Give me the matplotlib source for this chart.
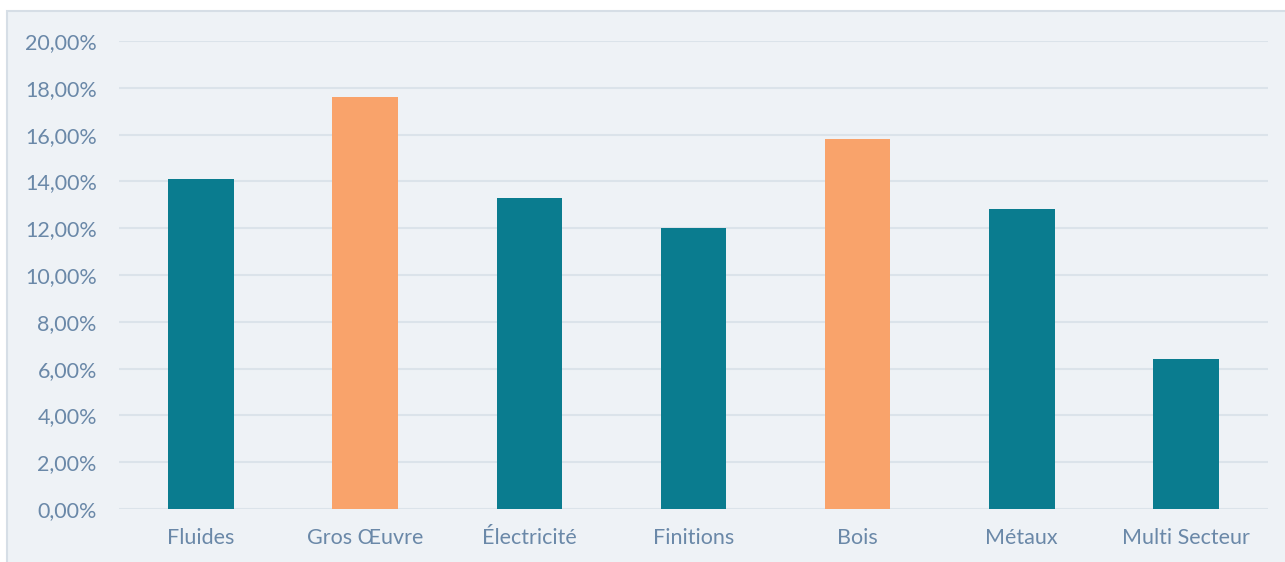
import matplotlib

matplotlib.use("Agg")

import matplotlib.pyplot as plt
from matplotlib.patches import Rectangle
from matplotlib.ticker import FuncFormatter, MultipleLocator

categories = ["Fluides", "Gros Œuvre", "Électricité", "Finitions", "Bois", "Métaux", "Multi Secteur"]
shares = [14.1, 17.6, 13.3, 12.0, 15.8, 12.8, 6.4]
highlighted = ["Gros Œuvre", "Bois"]

TEAL = "#0a7c8f"
ORANGE = "#f9a36b"
PANEL = "#eef2f6"
GRID = "#dbe3ea"
TEXT = "#6a88a8"

W, H = 1285, 562
fig = plt.figure(figsize=(W / 100, H / 100), dpi=100)
fig.patch.set_facecolor("white")

# light panel behind the chart, running off the right and bottom edges
fig.patches.append(
    Rectangle((7 / W, -0.05), 1.05 - 7 / W, 0.05 + (H - 11) / H, transform=fig.transFigure,
              facecolor=PANEL, edgecolor="#d6dee6", linewidth=1.5, zorder=-5)
)

ax = fig.add_axes([119 / W, 53 / H, (1268 - 119) / W, (509 - 41) / H])
ax.set_facecolor("none")
ax.set_zorder(2)

colors = [ORANGE if c in highlighted else TEAL for c in categories]
ax.bar(range(len(categories)), shares, width=0.4, color=colors, zorder=3)

ax.set_xlim(-0.5, len(categories) - 0.5)
ax.set_ylim(0, 20)
ax.yaxis.set_major_locator(MultipleLocator(2))
ax.yaxis.set_major_formatter(FuncFormatter(lambda v, _: f"{v:.2f}".replace(".", ",") + "%"))
ax.set_xticks(range(len(categories)))
ax.set_xticklabels(categories)

ax.grid(axis="y", color=GRID, linewidth=1.5, zorder=0)
ax.tick_params(length=0, labelsize=15.5, labelcolor=TEXT)
ax.tick_params(axis="y", pad=16)
ax.tick_params(axis="x", pad=14)
for label in ax.get_xticklabels() + ax.get_yticklabels():
    label.set_fontfamily("Lato")
for spine in ax.spines.values():
    spine.set_visible(False)

fig.savefig("out.png", dpi=100)
